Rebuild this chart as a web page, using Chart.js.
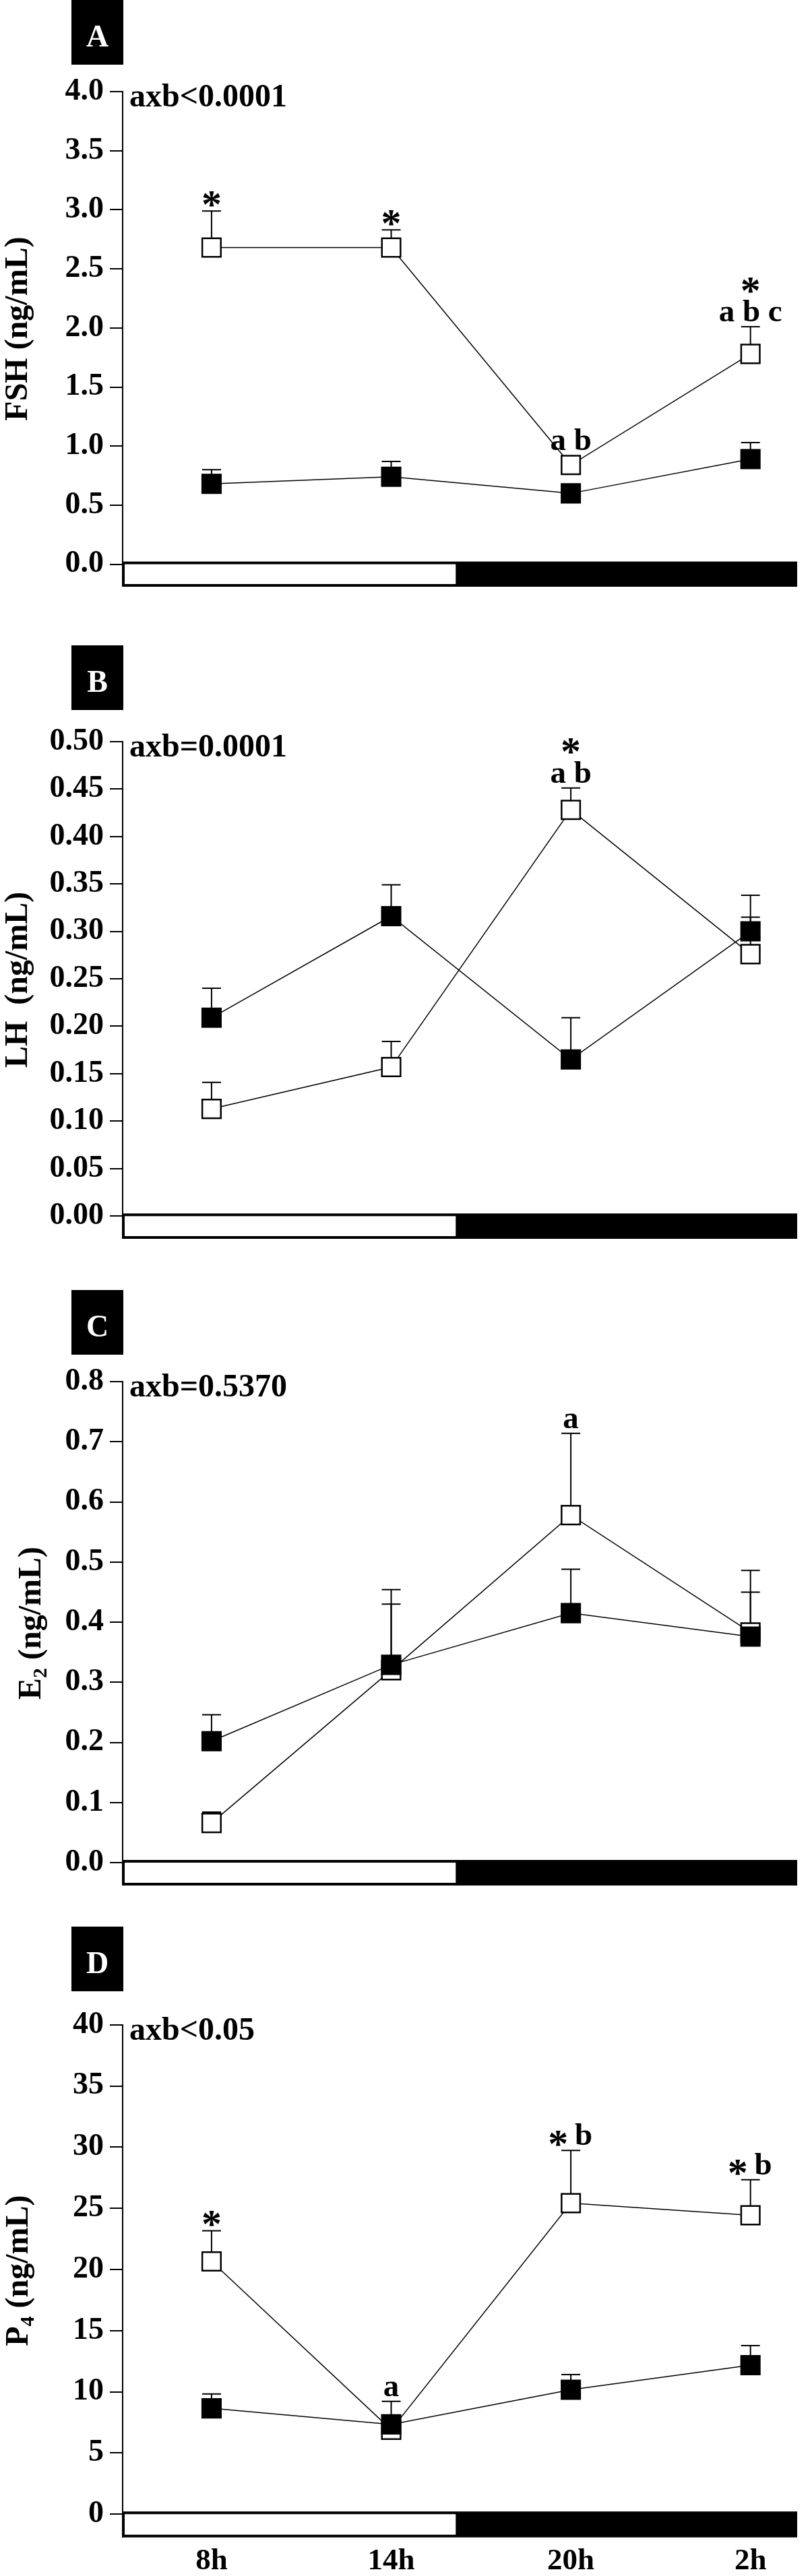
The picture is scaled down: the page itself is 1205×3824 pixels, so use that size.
<!DOCTYPE html>
<html>
<head>
<meta charset="utf-8">
<script src="https://cdn.jsdelivr.net/npm/chart.js@4.4.1/dist/chart.umd.min.js"></script>
<style>
  body { margin: 0; background: #fff; width: 1205px; height: 3824px; position: relative; overflow: hidden; }
  .panel { position: absolute; left: 0; width: 1205px; }
  .panel canvas { display: block; }
</style>
</head>
<body>
<div id="figure"></div>
<script>
// ---- time points (x) ----
const hours = [8, 14, 20, 26];
const hourLabels = ['8h', '14h', '20h', '2h'];
const lightsOffHour = 16.2;   // light/dark bar changes here
const xMin = 5.03;
const xMax = 27.56;

// ---- A: FSH ----
const fshTicks = [0, 0.5, 1, 1.5, 2, 2.5, 3, 3.5, 4];
const fshOpen = [2.68, 2.68, 0.84, 1.78];
const fshOpenSem = [0.31, 0.15, 0, 0.23];
const fshFilled = [0.68, 0.74, 0.60, 0.89];
const fshFilledSem = [0.12, 0.13, 0, 0.14];
const fshNotes = [['*'], ['*'], ['a b'], ['*', 'a b c']];

// ---- B: LH ----
const lhTicks = [0, 0.05, 0.1, 0.15, 0.2, 0.25, 0.3, 0.35, 0.4, 0.45, 0.5];
const lhOpen = [0.113, 0.157, 0.428, 0.276];
const lhOpenSem = [0.028, 0.027, 0.023, 0.039];
const lhFilled = [0.209, 0.316, 0.165, 0.300];
const lhFilledSem = [0.031, 0.033, 0.044, 0.038];
const lhNotes = [[], [], ['*', 'a b'], []];

// ---- C: E2 ----
const e2Ticks = [0, 0.1, 0.2, 0.3, 0.4, 0.5, 0.6, 0.7, 0.8];
const e2Open = [0.066, 0.320, 0.578, 0.383];
const e2OpenSem = [0.018, 0.134, 0.136, 0.103];
const e2Filled = [0.202, 0.329, 0.415, 0.376];
const e2FilledSem = [0.044, 0.101, 0.073, 0.074];
const e2Notes = [[], [], ['a'], []];

// ---- D: P4 ----
const p4Ticks = [0, 5, 10, 15, 20, 25, 30, 35, 40];
const p4Open = [20.66, 6.9, 25.42, 24.43];
const p4OpenSem = [2.5, 0, 4.31, 2.9];
const p4Filled = [8.65, 7.34, 10.17, 12.18];
const p4FilledSem = [1.17, 1.88, 1.24, 1.59];
const p4Notes = [['*'], ['a'], ['* b'], ['* b']];

const SERIF = '"Liberation Serif", "Times New Roman", serif';
const BAR_PX = 33.5;

const panels = [
    { letter: 'A', top: 0, height: 920, areaTop: 136, areaBottom: 895, boxTop: 0, titleX: 40,
      title: [['FSH (ng/mL)', false]], stat: 'axb<0.0001', ticks: fshTicks, dec: 1,
      open: fshOpen, openSem: fshOpenSem, filled: fshFilled, filledSem: fshFilledSem, notes: fshNotes },
    { letter: 'B', top: 920, height: 940, areaTop: 180.7, areaBottom: 937, boxTop: 38, titleX: 40,
      title: [['LH  (ng/mL)', false]], stat: 'axb=0.0001', ticks: lhTicks, dec: 2,
      open: lhOpen, openSem: lhOpenSem, filled: lhFilled, filledSem: lhFilledSem, notes: lhNotes },
    { letter: 'C', top: 1860, height: 960, areaTop: 191, areaBottom: 950, boxTop: 55, titleX: 60,
      title: [['E', false], ['2', true], [' (ng/mL)', false]], stat: 'axb=0.5370', ticks: e2Ticks, dec: 1,
      open: e2Open, openSem: e2OpenSem, filled: e2Filled, filledSem: e2FilledSem, notes: e2Notes },
    { letter: 'D', top: 2820, height: 1004, areaTop: 185.7, areaBottom: 945.7, boxTop: 40, titleX: 41,
      title: [['P', false], ['4', true], [' (ng/mL)', false]], stat: 'axb<0.05', ticks: p4Ticks, dec: 0,
      open: p4Open, openSem: p4OpenSem, filled: p4Filled, filledSem: p4FilledSem, notes: p4Notes, showX: true }
];

function toPoints(values) {
    return hours.map((h, i) => ({ x: h, y: values[i] }));
}

function drawStar(ctx, cx, cy) {
    ctx.font = 'bold 60px ' + SERIF;
    ctx.textAlign = 'center';
    ctx.textBaseline = 'alphabetic';
    const m = ctx.measureText('*');
    const off = (m.actualBoundingBoxAscent - m.actualBoundingBoxDescent) / 2;
    ctx.fillText('*', cx, cy + off);
}

function drawNoteLine(ctx, x, baseline, text) {
    const tokens = text.split(' ');
    ctx.font = 'bold 47px ' + SERIF;
    const gap = ctx.measureText(' ').width;
    const starW = 26;
    const widths = tokens.map(t => t === '*' ? starW : ctx.measureText(t).width);
    const total = widths.reduce((a, b) => a + b, 0) + gap * (tokens.length - 1);
    let cx = x - total / 2;
    tokens.forEach((t, i) => {
        if (t === '*') {
            drawStar(ctx, cx + starW / 2, baseline - 10);
        } else {
            ctx.font = 'bold 47px ' + SERIF;
            ctx.textAlign = 'left';
            ctx.textBaseline = 'alphabetic';
            ctx.fillText(t, cx, baseline);
        }
        cx += widths[i] + gap;
    });
}

const decorPlugin = {
    id: 'decor',
    beforeDatasetsDraw(chart) {
        const ctx = chart.ctx;
        const xs = chart.scales.x, ys = chart.scales.y;
        ctx.save();
        ctx.strokeStyle = '#000';
        ctx.lineWidth = 2;
        chart.data.datasets.forEach(ds => {
            ds.values.forEach((v, i) => {
                const s = ds.sem[i];
                if (!s) return;
                const px = xs.getPixelForValue(hours[i]);
                const pm = ys.getPixelForValue(v);
                const pt = ys.getPixelForValue(v + s);
                ctx.beginPath();
                ctx.moveTo(px, pm);
                ctx.lineTo(px, pt);
                ctx.moveTo(px - 14, pt);
                ctx.lineTo(px + 14, pt);
                ctx.stroke();
            });
        });
        ctx.restore();
    },
    afterDraw(chart) {
        const p = chart.options.plugins.decor.panel;
        const ctx = chart.ctx;
        const area = chart.chartArea;
        const xs = chart.scales.x, ys = chart.scales.y;
        ctx.save();

        // light / dark bar along the bottom
        const y0 = ys.getPixelForValue(0);
        const xb = xs.getPixelForValue(lightsOffHour);
        ctx.fillStyle = '#000';
        ctx.fillRect(area.left - 1, y0 - 4, area.right - area.left + 1, area.bottom - y0 + 5);
        ctx.fillStyle = '#fff';
        ctx.fillRect(area.left + 3, y0, xb - 2 - (area.left + 3), area.bottom - y0 - 3);

        // panel letter box
        ctx.fillStyle = '#000';
        ctx.fillRect(106, p.boxTop, 77, 96);
        ctx.fillStyle = '#fff';
        ctx.font = 'bold 46px ' + SERIF;
        ctx.textAlign = 'center';
        ctx.textBaseline = 'alphabetic';
        ctx.fillText(p.letter, 144.5, p.boxTop + 69);

        // interaction p value
        ctx.fillStyle = '#000';
        ctx.textAlign = 'left';
        ctx.font = 'bold 48px ' + SERIF;
        ctx.fillText(p.stat, 192, area.top + 22);

        // y-axis title (drawn by hand for the subscript)
        ctx.save();
        ctx.translate(p.titleX, (area.top + area.bottom) / 2 - 15);
        ctx.rotate(-Math.PI / 2);
        const parts = p.title.map(([t, sub]) => {
            const font = (sub ? 'bold 30px ' : 'bold 48px ') + SERIF;
            ctx.font = font;
            return { t, sub, font, w: ctx.measureText(t).width };
        });
        const total = parts.reduce((a, b) => a + b.w, 0);
        let tx = -total / 2;
        ctx.textAlign = 'left';
        parts.forEach(part => {
            ctx.font = part.font;
            ctx.fillText(part.t, tx, part.sub ? 9 : 0);
            tx += part.w;
        });
        ctx.restore();

        // significance letters above the points
        ctx.fillStyle = '#000';
        p.notes.forEach((lines, i) => {
            if (!lines.length) return;
            let anchor = Infinity;
            chart.data.datasets.forEach(ds => {
                const v = ds.values[i], s = ds.sem[i];
                const top = s ? ys.getPixelForValue(v + s) : ys.getPixelForValue(v) - 14;
                anchor = Math.min(anchor, top);
            });
            const px = xs.getPixelForValue(hours[i]);
            let base = anchor - 8;
            for (let k = lines.length - 1; k >= 0; k--) {
                if (lines[k] === '*') {
                    drawStar(ctx, px, base - 10);
                } else {
                    drawNoteLine(ctx, px, base, lines[k]);
                }
                base -= 44;
            }
        });
        ctx.restore();
    }
};

const figure = document.getElementById('figure');

panels.forEach(p => {
    const wrap = document.createElement('div');
    wrap.className = 'panel';
    wrap.style.top = p.top + 'px';
    wrap.style.height = p.height + 'px';
    const canvas = document.createElement('canvas');
    canvas.width = 1205;
    canvas.height = p.height;
    canvas.style.width = '1205px';
    canvas.style.height = p.height + 'px';
    wrap.appendChild(canvas);
    figure.appendChild(wrap);

    const yMax = p.ticks[p.ticks.length - 1];
    const yMin = -yMax * BAR_PX / (p.areaBottom - p.areaTop - BAR_PX);
    const xAxisH = p.height - p.areaBottom;

    new Chart(canvas, {
        type: 'line',
        data: {
            datasets: [
                {   // filled squares, drawn on top
                    data: toPoints(p.filled), values: p.filled, sem: p.filledSem,
                    borderColor: '#000', borderWidth: 1.5,
                    pointStyle: 'rect', pointRadius: 19.5, pointBorderWidth: 2.5,
                    pointBackgroundColor: '#000', pointBorderColor: '#000'
                },
                {   // open squares
                    data: toPoints(p.open), values: p.open, sem: p.openSem,
                    borderColor: '#000', borderWidth: 1.5,
                    pointStyle: 'rect', pointRadius: 19.5, pointBorderWidth: 2.5,
                    pointBackgroundColor: '#fff', pointBorderColor: '#000'
                }
            ]
        },
        options: {
            responsive: false,
            animation: false,
            devicePixelRatio: 1,
            layout: {
                padding: { top: p.areaTop, left: 0, right: 0, bottom: p.showX ? 0 : p.height - p.areaBottom }
            },
            plugins: {
                legend: { display: false },
                tooltip: { enabled: false },
                decor: { panel: p }
            },
            scales: {
                x: {
                    type: 'linear',
                    min: xMin,
                    max: xMax,
                    display: !!p.showX,
                    grid: { display: false, drawTicks: false },
                    border: { display: false },
                    afterBuildTicks: scale => { scale.ticks = hours.map(v => ({ value: v })); },
                    afterFit: scale => {
                        scale.height = xAxisH;
                        scale.paddingLeft = 0;
                        scale.paddingRight = 0;
                    },
                    ticks: {
                        autoSkip: false,
                        maxRotation: 0,
                        padding: 10,
                        color: '#000',
                        font: { family: SERIF, size: 45, weight: 'bold' },
                        callback: v => hourLabels[hours.indexOf(v)]
                    }
                },
                y: {
                    min: yMin,
                    max: yMax,
                    grid: {
                        drawOnChartArea: false,
                        drawTicks: true,
                        tickLength: 19,
                        color: '#000',
                        lineWidth: 2
                    },
                    border: { display: true, color: '#000', width: 2 },
                    afterBuildTicks: scale => { scale.ticks = p.ticks.map(v => ({ value: v })); },
                    afterFit: scale => {
                        scale.width = 182;
                        scale.paddingTop = 0;
                        scale.paddingBottom = 0;
                    },
                    ticks: {
                        padding: 9,
                        color: '#000',
                        font: { family: SERIF, size: 46, weight: 'bold' },
                        callback: v => v.toFixed(p.dec)
                    }
                }
            }
        },
        plugins: [decorPlugin]
    });
});
</script>
</body>
</html>
